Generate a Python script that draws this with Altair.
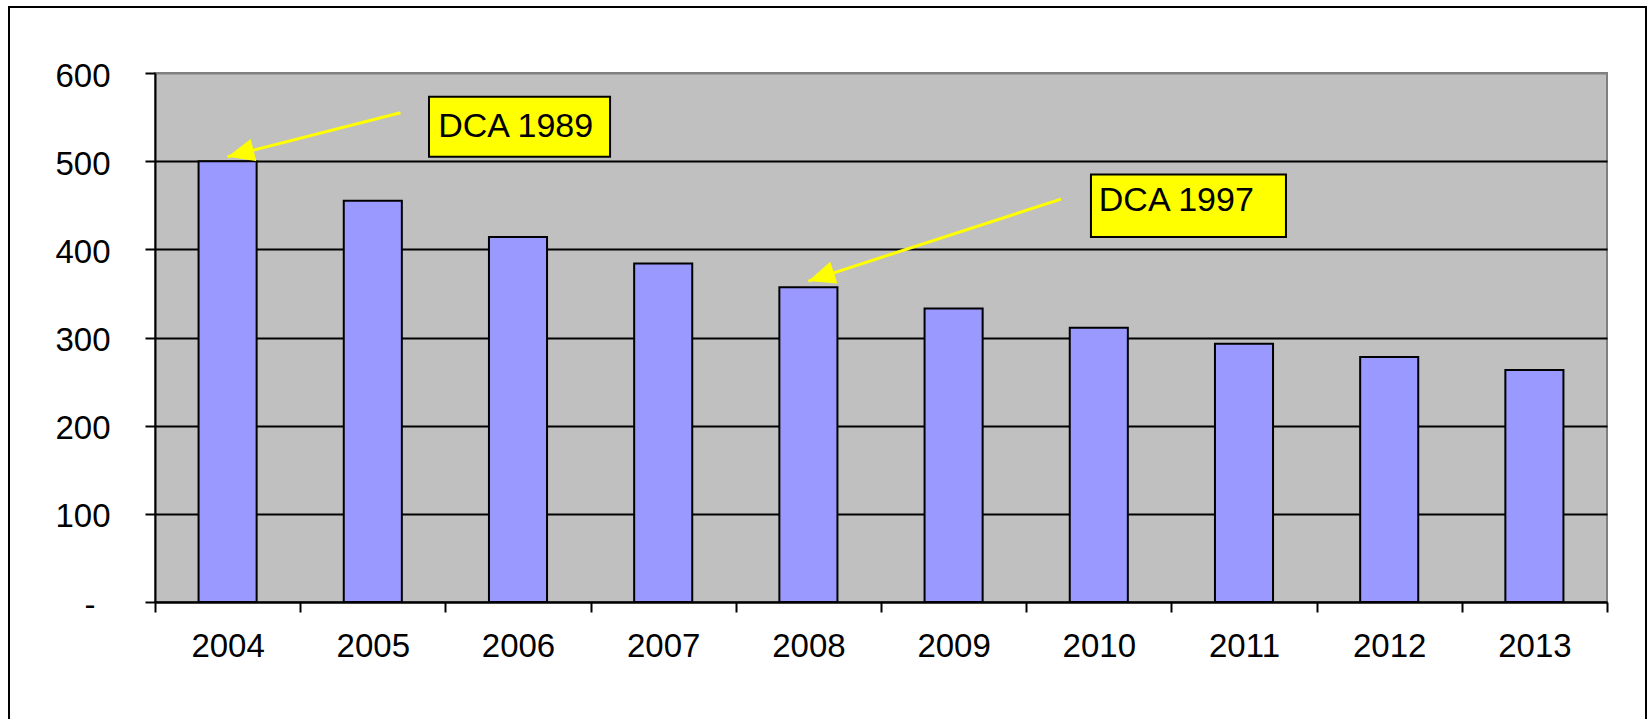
import altair as alt
import pandas as pd

# ---- data ----
years = ["2004", "2005", "2006", "2007", "2008", "2009", "2010", "2011", "2012", "2013"]
values = [500, 455, 414, 384, 357, 333, 311, 293, 278, 263]
y_ticks = [0, 100, 200, 300, 400, 500, 600]

# ---- annotations (x in band units 0..10, y in data units) ----
ann_labels = ["DCA 1989", "DCA 1997"]
ann_years = ["2004", "2008"]
ann_tip_dy = [5, 7]
ann_tail_x = [1.69, 6.24]
ann_tail_y = [555, 457]
ann_box_x = [1.887, 6.446]
ann_box_x2 = [3.134, 7.789]
ann_box_y = [573, 485]
ann_box_y2 = [505, 414]
ann_text_x = [1.95, 6.50]
ann_text_y = [539, 455]
ann_angle = [255.5, 251.7]

FONT = "Liberation Sans"

df = pd.DataFrame({"year": years, "value": values})

bars = alt.Chart(df).mark_bar(
    width={"band": 0.4}, color="#9999FF", stroke="black", strokeWidth=2
).encode(
    x=alt.X(
        "year:O",
        scale=alt.Scale(paddingInner=0, paddingOuter=0),
        axis=alt.Axis(
            title=None, labelAngle=0, tickBand="extent", grid=False,
            domainColor="black", domainWidth=2, tickColor="black", tickWidth=2,
            tickSize=10, labelFontSize=33, labelFont=FONT, labelColor="black",
            labelPadding=18,
        ),
    ),
    y=alt.Y(
        "value:Q",
        scale=alt.Scale(domain=[0, 600], nice=False),
        axis=alt.Axis(
            title=None, values=y_ticks,
            labelExpr="datum.value == 0 ? '-' : datum.label",
            grid=True,
            gridColor={"condition": {"test": "datum.value === 600", "value": "#808080"}, "value": "black"},
            gridWidth=2,
            domainColor="black", domainWidth=2, tickColor="black", tickWidth=2,
            tickSize=10, labelFontSize=33, labelFont=FONT, labelColor="black",
            labelPadding={"condition": {"test": "datum.value === 0", "value": 50}, "value": 35},
            labelOffset=3,
        ),
    ),
)

xq = alt.Scale(domain=[0, 10], nice=False, zero=False)

layers = [bars]
for i, lab in enumerate(ann_labels):
    yi = years.index(ann_years[i])
    tip_x = yi + 0.5
    tip_y = values[yi] + ann_tip_dy[i]
    a = pd.DataFrame({
        "x_tip": [tip_x], "y_tip": [tip_y],
        "x_tail": [ann_tail_x[i]], "y_tail": [ann_tail_y[i]],
        "bx": [ann_box_x[i]], "bx2": [ann_box_x2[i]],
        "by": [ann_box_y[i]], "by2": [ann_box_y2[i]],
        "tx": [ann_text_x[i]], "ty": [ann_text_y[i]], "label": [lab],
    })
    base = alt.Chart(a)
    rule = base.mark_rule(color="#FFFF00", strokeWidth=3).encode(
        x=alt.X("x_tail:Q", scale=xq, axis=None), x2="x_tip:Q",
        y=alt.Y("y_tail:Q", title=None), y2="y_tip:Q",
    )
    head = base.mark_point(
        shape="M0,0 L-0.9,2.1 L0.9,2.1 Z", size=650, filled=True, color="#FFFF00",
        opacity=1, strokeWidth=0, angle=ann_angle[i],
    ).encode(
        x=alt.X("x_tip:Q", scale=xq, axis=None),
        y=alt.Y("y_tip:Q", title=None),
    )
    box = base.mark_rect(fill="#FFFF00", stroke="black", strokeWidth=2).encode(
        x=alt.X("bx:Q", scale=xq, axis=None), x2="bx2:Q",
        y=alt.Y("by:Q", title=None), y2="by2:Q",
    )
    txt = base.mark_text(
        align="left", baseline="middle", font=FONT, fontSize=34, color="black"
    ).encode(
        x=alt.X("tx:Q", scale=xq, axis=None),
        y=alt.Y("ty:Q", title=None),
        text="label:N",
    )
    layers += [rule, head, box, txt]

frame = alt.Chart(alt.Data(values=[{}])).mark_rect(
    fill="transparent", stroke="black", strokeWidth=2
).encode(
    x=alt.value(-146), x2=alt.value(1491), y=alt.value(-66), y2=alt.value(680)
)
layers.append(frame)

chart = alt.layer(*layers).resolve_scale(x="independent").properties(
    width=1452, height=529,
    padding={"left": 155, "top": 73, "right": 44, "bottom": 117},
    autosize="none", background="white",
).configure_view(fill="#C0C0C0", stroke="#808080", strokeWidth=2)

chart.save("out.html", embed_options={"renderer": "svg", "actions": False})
